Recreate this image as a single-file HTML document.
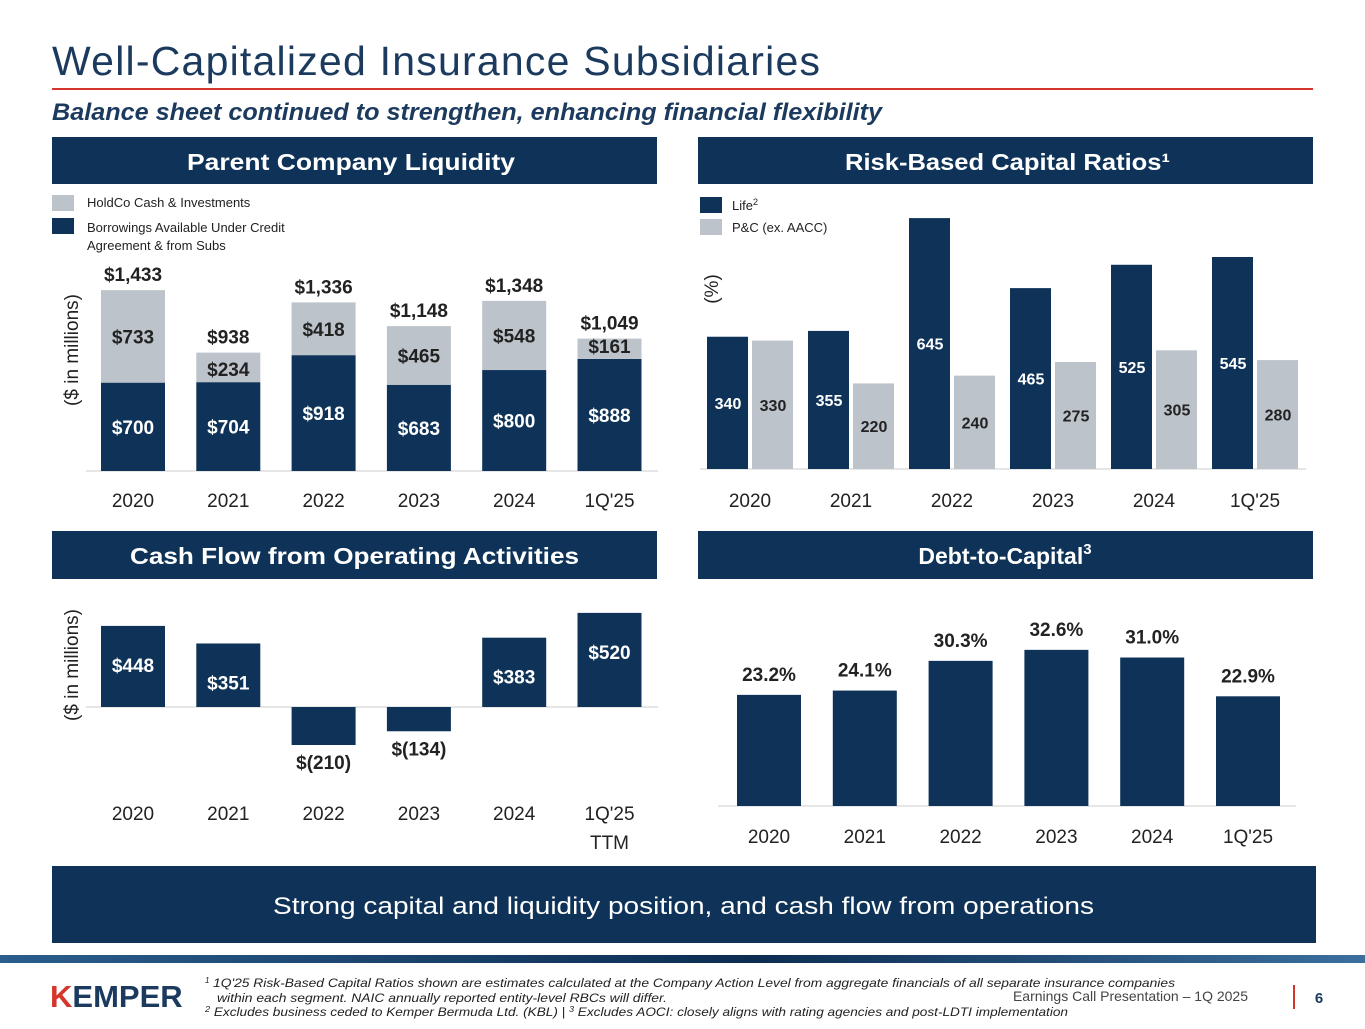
<!DOCTYPE html>
<html><head><meta charset="utf-8"><style>
body{margin:0;width:1365px;height:1024px;background:#fff;overflow:hidden;font-family:"Liberation Sans",sans-serif;}
svg text{font-family:"Liberation Sans",sans-serif;}
</style></head><body>
<svg id="s" width="1365" height="1024" xmlns="http://www.w3.org/2000/svg">
<text x="52" y="75" font-size="41" fill="#1b3a5e" textLength="768" lengthAdjust="spacing">Well-Capitalized Insurance Subsidiaries</text>
<rect x="52" y="88" width="1261" height="2" fill="#d5352b"/>
<text x="52" y="120" font-size="24" font-style="italic" font-weight="bold" fill="#1b3a5e" textLength="830" lengthAdjust="spacingAndGlyphs">Balance sheet continued to strengthen, enhancing financial flexibility</text>

<rect x="52" y="137" width="605" height="47" fill="#0f3358"/>
<text x="187" y="170" font-size="23" font-weight="bold" fill="#fff" textLength="328" lengthAdjust="spacingAndGlyphs">Parent Company Liquidity</text>
<rect x="698" y="137" width="615" height="47" fill="#0f3358"/>
<text x="845" y="170" font-size="23" font-weight="bold" fill="#fff" textLength="325" lengthAdjust="spacingAndGlyphs">Risk-Based Capital Ratios¹</text>
<rect x="52" y="531" width="605" height="48" fill="#0f3358"/>
<text x="130" y="564" font-size="23" font-weight="bold" fill="#fff" textLength="449" lengthAdjust="spacingAndGlyphs">Cash Flow from Operating Activities</text>
<rect x="698" y="531" width="615" height="48" fill="#0f3358"/>
<text x="1005" y="564" font-size="23" font-weight="bold" fill="#fff" text-anchor="middle">Debt-to-Capital<tspan font-size="15" dy="-10">3</tspan></text>

<rect x="52" y="195" width="22" height="16" fill="#bcc3ca"/>
<text x="87" y="207" font-size="13" fill="#222">HoldCo Cash &amp; Investments</text>
<rect x="52" y="218" width="22" height="16" fill="#0f3358"/>
<text x="87" y="232" font-size="13" fill="#222">Borrowings Available Under Credit</text>
<text x="87" y="250" font-size="13" fill="#222">Agreement &amp; from Subs</text>
<text transform="translate(78,350) rotate(-90)" font-size="19" fill="#222" text-anchor="middle">($ in millions)</text>

<rect x="700" y="197" width="22" height="16" fill="#0f3358"/>
<text x="732" y="210" font-size="13" fill="#222">Life<tspan font-size="9" dy="-5">2</tspan></text>
<rect x="700" y="219" width="22" height="16" fill="#bcc3ca"/>
<text x="732" y="232" font-size="13" fill="#222">P&amp;C (ex. AACC)</text>
<text transform="translate(718,289) rotate(-90)" font-size="19" fill="#222" text-anchor="middle">(%)</text>

<text transform="translate(78,665) rotate(-90)" font-size="19" fill="#222" text-anchor="middle">($ in millions)</text>

<rect x="52" y="866" width="1264" height="77" fill="#0f3358"/>
<text x="273" y="914" font-size="24" fill="#fff" textLength="821" lengthAdjust="spacingAndGlyphs">Strong capital and liquidity position, and cash flow from operations</text>

<defs><linearGradient id="fg" x1="0" x2="1"><stop offset="0" stop-color="#2a5d8c"/><stop offset="0.55" stop-color="#0c2d52"/><stop offset="1" stop-color="#3b6f9e"/></linearGradient></defs>
<rect x="0" y="955" width="1365" height="8" fill="url(#fg)"/>
<text x="50" y="1007" font-size="31" font-weight="bold" fill="#1b3a5e"><tspan fill="#d5352b">K</tspan>EMPER</text>
<text x="205" y="983" font-size="8" font-style="italic" fill="#222">1</text>
<text x="213" y="987" font-size="12" font-style="italic" fill="#222" textLength="962" lengthAdjust="spacingAndGlyphs">1Q'25 Risk-Based Capital Ratios shown are estimates calculated at the Company Action Level from aggregate financials of all separate insurance companies</text>
<text x="217" y="1002" font-size="12" font-style="italic" fill="#222" textLength="450" lengthAdjust="spacingAndGlyphs">within each segment. NAIC annually reported entity-level RBCs will differ.</text>
<text x="205" y="1016" font-size="12" font-style="italic" fill="#222" textLength="863" lengthAdjust="spacingAndGlyphs"><tspan font-size="8" dy="-4">2</tspan><tspan dy="4"> Excludes business ceded to Kemper Bermuda Ltd. (KBL) | </tspan><tspan font-size="8" dy="-4">3</tspan><tspan dy="4"> Excludes AOCI: closely aligns with rating agencies and post-LDTI implementation</tspan></text>
<text x="1248" y="1001" font-size="14" fill="#444" text-anchor="end">Earnings Call Presentation – 1Q 2025</text>
<rect x="1293" y="985" width="2" height="24" fill="#d5352b"/>
<text x="1319" y="1003" font-size="15" font-weight="bold" fill="#1b3a5e" text-anchor="middle">6</text>
<g id="charts"></g>
</svg>
<script>
const years=["2020","2021","2022","2023","2024","1Q'25"];
const borrow=[700,704,918,683,800,888];
const holdco=[733,234,418,465,548,161];
const totals=[1433,938,1336,1148,1348,1049];
const life=[340,355,645,465,525,545];
const pc=[330,220,240,275,305,280];
const cashflow=[448,351,-210,-134,383,520];
const cfLabels=["2020","2021","2022","2023","2024","1Q'25"];
const debt=[23.2,24.1,30.3,32.6,31.0,22.9];

const NS="http://www.w3.org/2000/svg";
const G=document.getElementById('charts');
function el(t,a,txt){const e=document.createElementNS(NS,t);for(const k in a)e.setAttribute(k,a[k]);if(txt!==undefined)e.textContent=txt;G.appendChild(e);return e;}
const NAVY="#0f3358",GRAY="#bcc3ca";
function fmt(v){return v<0?"$("+(-v)+")":"$"+v.toLocaleString('en-US');}

// Chart 1
const x1=i=>133+i*95.3, y1=v=>471-v*0.1262;
el('line',{x1:86,x2:658,y1:471,y2:471,stroke:"#ccc"});
years.forEach((yr,i)=>{
  const cx=x1(i);
  let r=el('rect',{x:cx-32,y:y1(borrow[i]),width:64,height:471-y1(borrow[i]),fill:NAVY});
  
  r=el('rect',{x:cx-32,y:y1(borrow[i]+holdco[i]),width:64,height:y1(borrow[i])-y1(borrow[i]+holdco[i]),fill:GRAY});
  
  let t=el('text',{x:cx,y:y1(borrow[i]/2)+7,"font-size":19,"font-weight":"bold",fill:"#fff","text-anchor":"middle"},fmt(borrow[i]));
  
  const hh=y1(borrow[i])-y1(borrow[i]+holdco[i]);
  const hy=hh>40?y1(borrow[i]+holdco[i]/2)+7:y1(borrow[i])-6;
  t=el('text',{x:cx,y:hy,"font-size":19,"font-weight":"bold",fill:"#222","text-anchor":"middle"},fmt(holdco[i]));
  
  t=el('text',{x:cx,y:y1(totals[i])-9,"font-size":19,"font-weight":"bold",fill:"#222","text-anchor":"middle"},fmt(totals[i]));
  
  t=el('text',{x:cx,y:507,"font-size":19,fill:"#222","text-anchor":"middle"},yr);
  
});

// Chart 2
const x2=i=>750+i*101, y2=v=>469-v*0.389;
el('line',{x1:700,x2:1306,y1:469,y2:469,stroke:"#ccc"});
years.forEach((yr,i)=>{
  const cx=x2(i);
  let r=el('rect',{x:cx-43,y:y2(life[i]),width:41,height:469-y2(life[i]),fill:NAVY});
  
  r=el('rect',{x:cx+2,y:y2(pc[i]),width:41,height:469-y2(pc[i]),fill:GRAY});
  
  let t=el('text',{x:cx-22,y:y2(life[i]/2)+6,"font-size":16,"font-weight":"bold",fill:"#fff","text-anchor":"middle"},life[i]);
  
  t=el('text',{x:cx+23,y:y2(pc[i]/2)+6,"font-size":16,"font-weight":"bold",fill:"#222","text-anchor":"middle"},pc[i]);
  
  t=el('text',{x:cx,y:507,"font-size":19,fill:"#222","text-anchor":"middle"},yr);
  
});

// Chart 3
const y3=v=>707-v*0.181;
el('line',{x1:86,x2:658,y1:707,y2:707,stroke:"#ccc"});
cfLabels.forEach((yr,i)=>{
  const cx=x1(i),v=cashflow[i];
  const top=Math.min(y3(v),707),h=Math.abs(y3(v)-707);
  let r=el('rect',{x:cx-32,y:top,width:64,height:h,fill:NAVY});
  
  let t=el('text',{x:cx,y:v>=0?y3(v)+46:y3(v)+24,"font-size":19,"font-weight":"bold",fill:v>=0?"#fff":"#222","text-anchor":"middle"},fmt(v));
  
  t=el('text',{x:cx,y:820,"font-size":19,fill:"#222","text-anchor":"middle"},yr);
  
});
let tt=el('text',{x:x1(5),y:849,"font-size":19,fill:"#222","text-anchor":"middle"},"TTM");


// Chart 4
const x4=i=>769+i*95.8, y4=v=>806-v*4.79;
el('line',{x1:718,x2:1296,y1:806,y2:806,stroke:"#ccc"});
years.forEach((yr,i)=>{
  const cx=x4(i);
  let r=el('rect',{x:cx-32,y:y4(debt[i]),width:64,height:806-y4(debt[i]),fill:NAVY});
  
  let t=el('text',{x:cx,y:y4(debt[i])-14,"font-size":19,"font-weight":"bold",fill:"#222","text-anchor":"middle"},debt[i].toFixed(1)+"%");
  
  t=el('text',{x:cx,y:843,"font-size":19,fill:"#222","text-anchor":"middle"},yr);
  
});
</script>
</body></html>
